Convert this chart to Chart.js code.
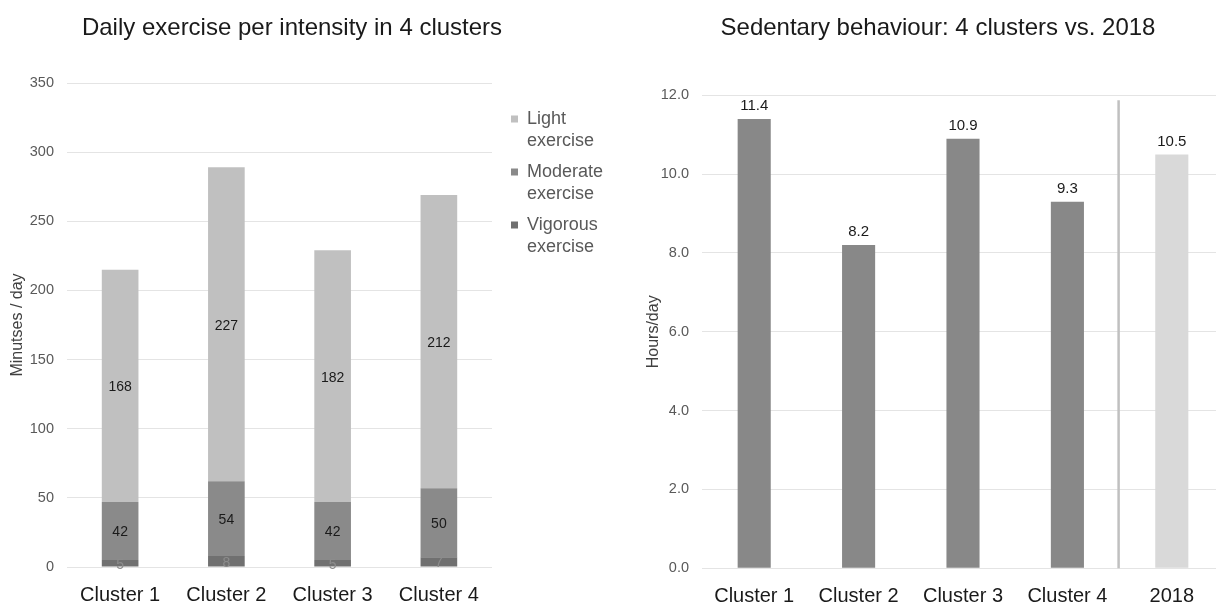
<!DOCTYPE html>
<html>
<head>
<meta charset="utf-8">
<script src="https://cdn.jsdelivr.net/npm/chart.js@4"></script>
<style>
  html, body { margin: 0; padding: 0; background: #ffffff; }
  body { width: 1216px; height: 603px; overflow: hidden; position: relative; }
  #wrapL { position: absolute; left: 0; top: 0; width: 608px; height: 603px; }
  #wrapR { position: absolute; left: 608px; top: 0; width: 620px; height: 603px; }
</style>
</head>
<body>
<div id="wrapL"><canvas id="left" width="608" height="603"></canvas></div>
<div id="wrapR"><canvas id="right" width="620" height="603"></canvas></div>
<script>
// ---------- DATA ----------
const clusters = ['Cluster 1', 'Cluster 2', 'Cluster 3', 'Cluster 4'];
const lightExercise = [168, 227, 182, 212];
const moderateExercise = [42, 54, 42, 50];
const vigorousExercise = [5, 8, 5, 7];
const exerciseLegend = [['Light', 'exercise'], ['Moderate', 'exercise'], ['Vigorous', 'exercise']];
const exerciseTitle = 'Daily exercise per intensity in 4 clusters';
const exerciseAxisTitle = 'Minutses / day';

const sedentaryCategories = ['Cluster 1', 'Cluster 2', 'Cluster 3', 'Cluster 4', '2018'];
const sedentaryHours = [11.4, 8.2, 10.9, 9.3, 10.5];
const sedentaryTitle = 'Sedentary behaviour: 4 clusters vs. 2018';
const sedentaryAxisTitle = 'Hours/day';

// ---------- STYLE ----------
const FONT = "'Liberation Sans', Arial, sans-serif";
Chart.defaults.font.family = FONT;
const GRID = '#e4e4e4';

const titlePlugin = {
  id: 'customTitle',
  afterDraw(chart, args, opts) {
    const ctx = chart.ctx;
    ctx.save();
    ctx.font = '24px ' + FONT;
    ctx.fillStyle = '#1a1a1a';
    ctx.textAlign = 'center';
    ctx.textBaseline = 'middle';
    ctx.fillText(opts.text, opts.x, opts.y);
    ctx.restore();
  }
};

const stackLabelPlugin = {
  id: 'stackLabels',
  afterDatasetsDraw(chart, args, opts) {
    const ctx = chart.ctx;
    ctx.save();
    ctx.font = '14px ' + FONT;
    ctx.textAlign = 'center';
    ctx.textBaseline = 'middle';
    chart.data.datasets.forEach((ds, i) => {
      const meta = chart.getDatasetMeta(i);
      ctx.fillStyle = ds.labelColor;
      meta.data.forEach((el, j) => {
        ctx.fillText(String(ds.data[j]), el.x, (el.y + el.base) / 2 + 1.5);
      });
    });
    ctx.restore();
  }
};

const sideLegendPlugin = {
  id: 'sideLegend',
  afterDraw(chart, args, opts) {
    const ctx = chart.ctx;
    ctx.save();
    ctx.font = '18px ' + FONT;
    ctx.textAlign = 'left';
    ctx.textBaseline = 'middle';
    const dsList = chart.data.datasets.slice().reverse();
    dsList.forEach((ds, i) => {
      const y0 = opts.y + i * opts.itemGap;
      ctx.fillStyle = ds.backgroundColor;
      ctx.fillRect(opts.x, y0 - 3.5, 7, 7);
      ctx.fillStyle = '#595959';
      ds.legendLines.forEach((line, k) => {
        ctx.fillText(line, opts.x + 16, y0 + k * opts.lineGap);
      });
    });
    ctx.restore();
  }
};

const topLabelPlugin = {
  id: 'topLabels',
  afterDatasetsDraw(chart) {
    const ctx = chart.ctx;
    ctx.save();
    ctx.font = '15px ' + FONT;
    ctx.fillStyle = '#1a1a1a';
    ctx.textAlign = 'center';
    ctx.textBaseline = 'middle';
    const ds = chart.data.datasets[0];
    chart.getDatasetMeta(0).data.forEach((el, j) => {
      ctx.fillText(ds.data[j].toFixed(1), el.x, el.y - 13);
    });
    ctx.restore();
  }
};

const separatorPlugin = {
  id: 'separator',
  beforeDatasetsDraw(chart) {
    const xs = chart.scales.x;
    const ca = chart.chartArea;
    const x = (xs.getPixelForValue(3) + xs.getPixelForValue(4)) / 2 - 1;
    const ctx = chart.ctx;
    ctx.save();
    ctx.strokeStyle = '#c0c0c0';
    ctx.lineWidth = 2.5;
    ctx.beginPath();
    ctx.moveTo(x, ca.top + 5);
    ctx.lineTo(x, ca.bottom);
    ctx.stroke();
    ctx.restore();
  }
};

// ---------- LEFT CHART ----------
new Chart(document.getElementById('left'), {
  type: 'bar',
  data: {
    labels: clusters,
    datasets: [
      { label: 'Vigorous exercise', data: vigorousExercise, backgroundColor: '#707070', labelColor: '#8c8c8c', legendLines: exerciseLegend[2] },
      { label: 'Moderate exercise', data: moderateExercise, backgroundColor: '#8a8a8a', labelColor: '#1a1a1a', legendLines: exerciseLegend[1] },
      { label: 'Light exercise', data: lightExercise, backgroundColor: '#c0c0c0', labelColor: '#1a1a1a', legendLines: exerciseLegend[0] }
    ]
  },
  options: {
    responsive: false,
    animation: false,
    layout: { padding: { left: 0, right: 116, top: 83, bottom: 0 } },
    datasets: { bar: { barPercentage: 0.345, categoryPercentage: 1, borderWidth: 0 } },
    plugins: {
      legend: { display: false },
      tooltip: { enabled: false },
      customTitle: { text: exerciseTitle, x: 292, y: 28 },
      sideLegend: { x: 511, y: 119, itemGap: 53, lineGap: 22.5 }
    },
    scales: {
      x: {
        stacked: true,
        grid: { display: false },
        border: { display: false },
        ticks: { color: '#1a1a1a', font: { size: 20 }, padding: 8 },
        afterFit(s) { s.height = 36; }
      },
      y: {
        stacked: true,
        min: 0, max: 350,
        grid: { color: GRID, drawTicks: false, lineWidth: 1 },
        border: { display: false },
        ticks: { stepSize: 50, color: '#595959', font: { size: 14.5 }, padding: 13 },
        title: { display: true, text: exerciseAxisTitle, color: '#404040', font: { size: 16 }, padding: { top: 8.4, bottom: 0 } },
        afterFit(s) { s.width = 67; }
      }
    }
  },
  plugins: [titlePlugin, stackLabelPlugin, sideLegendPlugin]
});

// ---------- RIGHT CHART ----------
new Chart(document.getElementById('right'), {
  type: 'bar',
  data: {
    labels: sedentaryCategories,
    datasets: [
      { label: 'Sedentary hours', data: sedentaryHours,
        backgroundColor: ['#888888', '#888888', '#888888', '#888888', '#d9d9d9'] }
    ]
  },
  options: {
    responsive: false,
    animation: false,
    layout: { padding: { left: 0, right: 4, top: 95.3, bottom: 0 } },
    datasets: { bar: { barPercentage: 0.317, categoryPercentage: 1, borderWidth: 0 } },
    plugins: {
      legend: { display: false },
      tooltip: { enabled: false },
      customTitle: { text: sedentaryTitle, x: 330, y: 28 }
    },
    scales: {
      x: {
        grid: { display: false },
        border: { display: false },
        ticks: { color: '#1a1a1a', font: { size: 20 }, padding: 8 },
        afterFit(s) { s.height = 34.7; }
      },
      y: {
        min: 0, max: 12,
        grid: { color: GRID, drawTicks: false, lineWidth: 1 },
        border: { display: false },
        ticks: { stepSize: 2, color: '#595959', font: { size: 14.5 }, padding: 13,
                 callback: (v) => Number(v).toFixed(1) },
        title: { display: true, text: sedentaryAxisTitle, color: '#404040', font: { size: 16 }, padding: { top: 35.5, bottom: 0 } },
        afterFit(s) { s.width = 94; }
      }
    }
  },
  plugins: [titlePlugin, separatorPlugin, topLabelPlugin]
});
</script>
</body>
</html>
